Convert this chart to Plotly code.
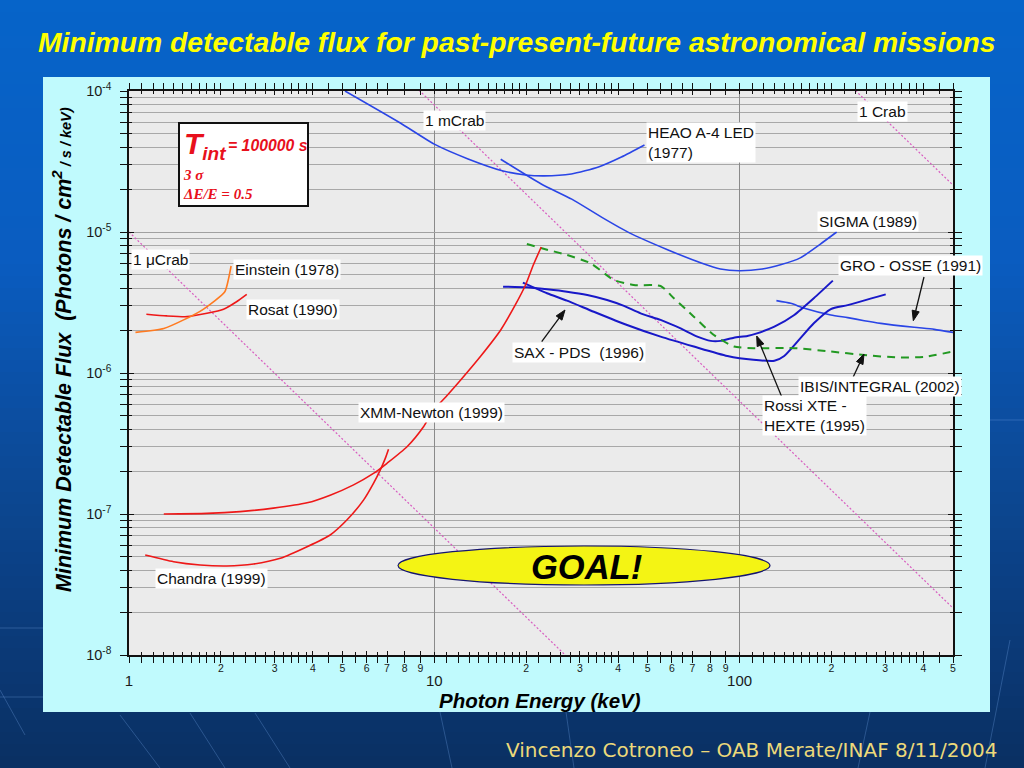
import math
import plotly.graph_objects as go

# ---------------- data ----------------
heao_x = [5.1, 7.74, 10.0, 12.9, 16.8, 19.9, 22.9, 28.1, 34.5, 41.0, 48.8]
heao_y = [1.0e-4, 5.93e-5, 4.2e-5, 3.3e-5, 2.71e-5, 2.54e-5, 2.5e-5, 2.58e-5, 2.89e-5, 3.4e-5, 4.14e-5]

sigma_x = [16.5, 22.4, 28.2, 35.4, 43.4, 57.8, 74.9, 86.5, 99.8, 118.7, 137, 158, 183, 208]
sigma_y = [3.28e-5, 2.19e-5, 1.71e-5, 1.27e-5, 9.9e-6, 7.52e-6, 6.03e-6, 5.47e-6, 5.31e-6,
           5.47e-6, 5.88e-6, 6.55e-6, 8.15e-6, 1.0e-5]

osse_x = [132, 147, 163, 199, 226, 256, 290, 373, 434, 500]
osse_y = [3.26e-6, 3.12e-6, 2.88e-6, 2.58e-6, 2.47e-6, 2.35e-6, 2.25e-6, 2.11e-6, 2.04e-6, 1.94e-6]

hexte_x = [16.8, 20.1, 23.4, 27.2, 31.7, 36.8, 41.8, 47.4, 55.1, 64.1, 72.7, 80.4, 86.7,
           95.8, 106, 114, 130, 151, 175, 202]
hexte_y = [4.09e-6, 4.05e-6, 3.92e-6, 3.77e-6, 3.57e-6, 3.29e-6, 2.99e-6, 2.65e-6, 2.38e-6,
           2.07e-6, 1.81e-6, 1.69e-6, 1.69e-6, 1.78e-6, 1.83e-6, 1.91e-6, 2.13e-6, 2.58e-6,
           3.39e-6, 4.52e-6]

sax_x = [19.5, 23.4, 27.2, 33.3, 42.8, 55.1, 70.8, 91.2, 111, 130, 140, 158, 175, 199, 226, 301]
sax_y = [4.37e-6, 3.68e-6, 3.26e-6, 2.72e-6, 2.19e-6, 1.81e-6, 1.54e-6, 1.32e-6, 1.24e-6,
         1.22e-6, 1.32e-6, 1.76e-6, 2.25e-6, 2.84e-6, 3.03e-6, 3.61e-6]

ibis_x = [20.1, 22.5, 27.2, 32.5, 38.7, 45.0, 55.1, 60.9, 70.8, 82.4, 95.8, 111, 151, 199,
          256, 329, 402, 500]
ibis_y = [8.22e-6, 7.66e-6, 6.87e-6, 6.0e-6, 4.57e-6, 4.21e-6, 4.14e-6, 3.39e-6, 2.51e-6,
          1.86e-6, 1.54e-6, 1.50e-6, 1.50e-6, 1.42e-6, 1.34e-6, 1.29e-6, 1.30e-6, 1.42e-6]

xmm_x = [1.30, 1.80, 2.31, 2.97, 3.83, 4.56, 5.44, 6.32, 7.0, 8.14, 9.22, 9.95, 10.9, 12.2,
         14.2, 16.5, 18.4, 19.9, 21.1, 22.4]
xmm_y = [1.0e-7, 1.01e-7, 1.04e-7, 1.10e-7, 1.20e-7, 1.36e-7, 1.61e-7, 1.94e-7, 2.29e-7,
         3.0e-7, 4.16e-7, 5.47e-7, 6.76e-7, 8.92e-7, 1.32e-6, 2.02e-6, 3.03e-6, 4.21e-6,
         5.83e-6, 7.83e-6]

chandra_x = [1.13, 1.40, 1.71, 2.09, 2.56, 3.13, 3.83, 4.56, 5.17, 5.87, 6.32, 6.65, 6.91, 7.08]
chandra_y = [5.12e-8, 4.59e-8, 4.35e-8, 4.28e-8, 4.42e-8, 4.85e-8, 5.86e-8, 7.1e-8, 9.06e-8,
             1.26e-7, 1.65e-7, 2.05e-7, 2.48e-7, 2.88e-7]

einstein_x = [1.05, 1.30, 1.51, 1.75, 2.06, 2.12, 2.16]
einstein_y = [1.94e-6, 2.07e-6, 2.38e-6, 2.83e-6, 3.77e-6, 4.69e-6, 5.74e-6]

rosat_x = [1.14, 1.33, 1.55, 1.80, 2.04, 2.25, 2.43]
rosat_y = [2.61e-6, 2.54e-6, 2.51e-6, 2.65e-6, 2.83e-6, 3.2e-6, 3.61e-6]

crab_x = [1, 500]
ucrab_y = [1e-5, 2.15e-11]
mcrab_y = [1e-2, 2.15e-8]
crab1_y = [10, 2.15e-5]

y_tickvals = [1e-8, 1e-7, 1e-6, 1e-5, 1e-4]
y_ticktext = ["10<sup>-8</sup>", "10<sup>-7</sup>", "10<sup>-6</sup>", "10<sup>-5</sup>", "10<sup>-4</sup>"]
x_major_vals = [1, 10, 100]
x_major_text = ["1", "10", "100"]
x_digit_vals = [2, 3, 4, 5, 6, 7, 8, 9, 20, 30, 40, 50, 60, 70, 80, 90, 200, 300, 400, 500]
x_digit_text = ["2", "3", "4", "5", "6", "7", "8", "9"] * 2 + ["2", "3", "4", "5"]
x_fine_mant = [1.1, 1.2, 1.3, 1.4, 1.5, 1.6, 1.7, 1.8, 1.9, 2.2, 2.4, 2.6, 2.8,
               3.2, 3.4, 3.6, 3.8, 4.5, 5.5, 6.5]
y_minor_mant = [2, 3, 4, 5, 6, 7, 8, 9]

# ---------------- geometry helpers ----------------
W, H = 1024, 768
L, R, T, B = 129, 953, 91, 655


def px(x):
    return (x - L) / (R - L)


def py(y):
    return (B - y) / (B - T)


x_fine = [m * d for d in (1, 10, 100) for m in x_fine_mant if m * d <= 500]
y_minor = [m * 10.0 ** e for e in range(-8, -4) for m in y_minor_mant]

fig = go.Figure()

BLUE = "#2a45e6"
DBLUE = "#1818c8"
RED = "#ee1818"
PINK = "#d85cc0"


def line(x, y, color, width=1.6, dash=None, name=""):
    fig.add_trace(go.Scatter(x=x, y=y, mode="lines", name=name,
                             line=dict(color=color, width=width, dash=dash,
                                       shape="spline", smoothing=0.6),
                             hoverinfo="skip", showlegend=False))


line(crab_x, ucrab_y, PINK, 1.2, "2px,2px", "1 uCrab")
line(crab_x, mcrab_y, PINK, 1.2, "2px,2px", "1 mCrab")
line(crab_x, crab1_y, PINK, 1.2, "2px,2px", "1 Crab")
line(heao_x, heao_y, BLUE, 1.6, None, "HEAO A-4 LED")
line(sigma_x, sigma_y, BLUE, 1.6, None, "SIGMA")
line(osse_x, osse_y, BLUE, 1.6, None, "GRO-OSSE")
line(hexte_x, hexte_y, DBLUE, 2.0, None, "Rossi XTE HEXTE")
line(sax_x, sax_y, DBLUE, 2.0, None, "SAX-PDS")
line(ibis_x, ibis_y, "#229922", 2.0, "8px,6px", "IBIS/INTEGRAL")
line(xmm_x, xmm_y, RED, 1.6, None, "XMM-Newton")
line(chandra_x, chandra_y, RED, 1.6, None, "Chandra")
line(rosat_x, rosat_y, RED, 1.6, None, "Rosat")
line(einstein_x, einstein_y, "#ff7a20", 1.6, None, "Einstein")

# invisible anchors so that the overlay tick axes are drawn
fig.add_trace(go.Scatter(x=crab_x, y=[1e-8, 1e-8], xaxis="x2", yaxis="y", mode="markers",
                         marker=dict(size=1, opacity=0), hoverinfo="skip", showlegend=False))
fig.add_trace(go.Scatter(x=crab_x, y=[1e-8, 1e-8], xaxis="x", yaxis="y2", mode="markers",
                         marker=dict(size=1, opacity=0), hoverinfo="skip", showlegend=False))

# ---------------- background shapes ----------------
shapes = []


def lerp_col(c1, c2, t):
    a = [int(c1[i:i + 2], 16) for i in (1, 3, 5)]
    b = [int(c2[i:i + 2], 16) for i in (1, 3, 5)]
    return "#%02x%02x%02x" % tuple(int(round(a[k] + (b[k] - a[k]) * t)) for k in range(3))


stops = [(0, "#0664c9"), (260, "#0a5cc0"), (460, "#0c4a98"), (768, "#0a2f62")]
step = 12
for yy in range(0, H, step):
    ymid = yy + step / 2
    for i in range(len(stops) - 1):
        if stops[i][0] <= ymid <= stops[i + 1][0]:
            t = (ymid - stops[i][0]) / (stops[i + 1][0] - stops[i][0])
            col = lerp_col(stops[i][1], stops[i + 1][1], t)
            break
    shapes.append(dict(type="rect", xref="paper", yref="paper", layer="below",
                       x0=px(0), x1=px(W), y0=py(yy + step + 1), y1=py(yy),
                       fillcolor=col, line=dict(width=0)))

streaks = [((120, 715), (160, 768)), ((190, 713), (225, 768)), ((255, 713), (290, 768)),
           ((0, 690), (25, 735)), ((440, 712), (452, 768)), ((566, 712), (574, 768)),
           ((870, 712), (858, 768)), ((1010, 640), (985, 768)), ((0, 628), (43, 628)),
           ((990, 420), (1024, 420)), ((0, 697), (43, 697))]
for (x0, y0), (x1, y1) in streaks:
    shapes.append(dict(type="line", xref="paper", yref="paper", layer="below",
                       x0=px(x0), y0=py(y0), x1=px(x1), y1=py(y1),
                       line=dict(color="rgba(120,170,235,0.30)", width=1)))

# cyan panel and plot area
shapes.append(dict(type="rect", xref="paper", yref="paper", layer="below",
                   x0=px(43), x1=px(990), y0=py(712), y1=py(77),
                   fillcolor="#c0fafd", line=dict(width=0)))
shapes.append(dict(type="rect", xref="paper", yref="paper", layer="below",
                   x0=0, x1=1, y0=0, y1=1, fillcolor="#ebebeb", line=dict(width=0)))

# info box
shapes.append(dict(type="rect", xref="paper", yref="paper", layer="above",
                   x0=px(179), x1=px(308), y0=py(206), y1=py(123),
                   fillcolor="white", line=dict(color="#111111", width=2)))
# GOAL ellipse
shapes.append(dict(type="circle", xref="paper", yref="paper", layer="above",
                   x0=px(398), x1=px(770), y0=py(585), y1=py(546),
                   fillcolor="#f4f414", line=dict(color="#141470", width=1.2)))


# arrows (line + filled head) drawn as shapes
def arrow(tail, head, hl=10, hw=3.6):
    dx, dy = head[0] - tail[0], head[1] - tail[1]
    n = math.hypot(dx, dy)
    ux, uy = dx / n, dy / n
    bx, by = head[0] - ux * hl, head[1] - uy * hl
    p1 = (bx - uy * hw, by + ux * hw)
    p2 = (bx + uy * hw, by - ux * hw)
    shapes.append(dict(type="line", xref="paper", yref="paper", layer="above",
                       x0=px(tail[0]), y0=py(tail[1]), x1=px(bx), y1=py(by),
                       line=dict(color="#111111", width=1.3)))
    path = "M %.5f %.5f L %.5f %.5f L %.5f %.5f Z" % (
        px(head[0]), py(head[1]), px(p1[0]), py(p1[1]), px(p2[0]), py(p2[1]))
    shapes.append(dict(type="path", xref="paper", yref="paper", layer="above", path=path,
                       fillcolor="#111111", line=dict(color="#111111", width=1)))


arrow((541.7, 341.7), (565, 310))
arrow((924, 277), (913.3, 320.7))
arrow((853.3, 376.7), (864, 354))
arrow((781.7, 396.7), (756.7, 336))

# ---------------- annotations ----------------
ann = []
LBL = dict(family="Liberation Sans, Arial", size=15.5, color="#111111")


def label(text, x, y):
    ann.append(dict(text=text, x=px(x), y=py(y), xref="paper", yref="paper",
                    xanchor="left", yanchor="middle", showarrow=False, align="left",
                    bgcolor="white", borderpad=1, font=LBL))


label("1 mCrab", 423, 120)
label("HEAO A-4 LED<br>(1977)", 646, 142)
label("1 Crab", 857, 111)
label("SIGMA (1989)", 817, 221)
label("GRO - OSSE (1991)", 838, 265)
label("SAX - PDS\u00a0 (1996)", 512, 353)
label("IBIS/INTEGRAL (2002)", 798, 386)
label("Rossi XTE -<br>HEXTE (1995)", 762, 415)
label("1 \u03bcCrab", 131, 259)
label("Einstein (1978)", 233, 269)
label("Rosat (1990)", 246, 309)
label("XMM-Newton (1999)", 358, 412)
label("Chandra (1999)", 155, 578)

REDT = "#e8101c"


def txt(text, x, y, size, family="Liberation Sans, Arial", color=REDT, anchor="left"):
    ann.append(dict(text=text, x=px(x), y=py(y), xref="paper", yref="paper",
                    xanchor=anchor, yanchor="middle", showarrow=False,
                    font=dict(family=family, size=size, color=color)))


txt("<b><i>T<sub><span style='font-size:19px'>int</span></sub></i></b>", 182, 146, 30)
txt("<b><i>= 100000 s</i></b>", 226, 146, 15.8)
txt("<b><i>3 \u03c3</i></b>", 181, 175, 15, "Liberation Serif, Times New Roman")
txt("<b><i>\u0394E/E = 0.5</i></b>", 181, 194, 15, "Liberation Serif, Times New Roman")

txt("<b><i>GOAL!</i></b>", 586, 567, 34.5, color="#000000", anchor="center")

txt("<b><i>Minimum detectable flux for past-present-future astronomical missions</i></b>",
    517, 42, 28.3, color="#ffff00", anchor="center")
txt("Vincenzo Cotroneo \u2013 OAB Merate/INAF 8/11/2004", 1000, 750, 20,
    family="DejaVu Sans", color="#ecd97a", anchor="right")

txt("<b><i>Photon Energy (keV)</i></b>", 540, 700, 20.5, color="#000000", anchor="center")
ann.append(dict(text="<b><i>Minimum Detectable Flux  (Photons / cm<sup>2</sup>"
                     "<span style='font-size:14.5px'> / s / keV)</span></i></b>",
                x=px(62), y=py(350), xref="paper", yref="paper", xanchor="center",
                yanchor="middle", textangle=-90, showarrow=False,
                font=dict(family="Liberation Sans, Arial", size=21.5, color="#000000")))

# ---------------- axes ----------------
xr = [0, math.log10(500)]
yr = [-8, -4]
AX_FONT = dict(family="Liberation Sans, Arial", color="#1a1a1a")

fig.update_layout(
    width=W, height=H,
    margin=dict(l=L, r=W - R, t=T, b=H - B, pad=0),
    paper_bgcolor="#0a4ea6",
    plot_bgcolor="rgba(0,0,0,0)",
    showlegend=False,
    shapes=shapes,
    annotations=ann,
    xaxis=dict(type="log", range=xr, tickmode="array", tickvals=x_major_vals,
               ticktext=x_major_text, tickfont=dict(AX_FONT, size=15),
               ticks="outside", ticklen=6, tickwidth=1.3, tickcolor="#111111",
               showline=True, linecolor="#111111", linewidth=1.5, mirror="allticks",
               showgrid=True, gridcolor="#8a8a8a", gridwidth=1, zeroline=False,
               ticklabelstandoff=5, fixedrange=True,
               minor=dict(tickmode="array", tickvals=x_digit_vals + x_fine,
                          ticks="outside", ticklen=4, tickwidth=1.1,
                          tickcolor="#111111", showgrid=False)),
    xaxis2=dict(type="log", range=xr, overlaying="x", anchor="y", side="bottom",
                tickmode="array", tickvals=x_digit_vals, ticktext=x_digit_text,
                tickfont=dict(AX_FONT, size=10.5), ticks="inside", ticklen=4,
                tickwidth=1.1, tickcolor="#111111", showline=False, showgrid=False,
                mirror="allticks", zeroline=False, ticklabelstandoff=5, fixedrange=True,
                minor=dict(tickmode="array", tickvals=x_major_vals + x_fine,
                           ticks="inside", ticklen=3, tickwidth=1.1,
                           tickcolor="#111111", showgrid=False)),
    yaxis=dict(type="log", range=yr, tickmode="array", tickvals=y_tickvals,
               ticktext=y_ticktext, tickfont=dict(AX_FONT, size=14.5),
               ticks="outside", ticklen=7, tickwidth=1.3, tickcolor="#111111",
               showline=True, linecolor="#111111", linewidth=1.5, mirror="allticks",
               showgrid=True, gridcolor="#a0a0a0", gridwidth=1, zeroline=False,
               ticklabelstandoff=6, fixedrange=True,
               minor=dict(tickmode="array", tickvals=y_minor, ticks="outside",
                          ticklen=4, tickwidth=1.1, tickcolor="#111111",
                          showgrid=True, gridcolor="#a8a8a8", gridwidth=1)),
    yaxis2=dict(type="log", range=yr, overlaying="y", anchor="x", side="left",
                tickmode="array", tickvals=y_tickvals, showticklabels=False,
                ticks="inside", ticklen=5, tickwidth=1.3, tickcolor="#111111",
                showline=False, showgrid=False, mirror="allticks", zeroline=False,
                fixedrange=True,
                minor=dict(tickmode="array", tickvals=y_minor, ticks="inside",
                           ticklen=3, tickwidth=1.1, tickcolor="#111111", showgrid=False)),
)

fig.write_html("out.html", config={"displayModeBar": False},
               post_script="document.body.style.margin='0';document.body.style.overflow='hidden';")
